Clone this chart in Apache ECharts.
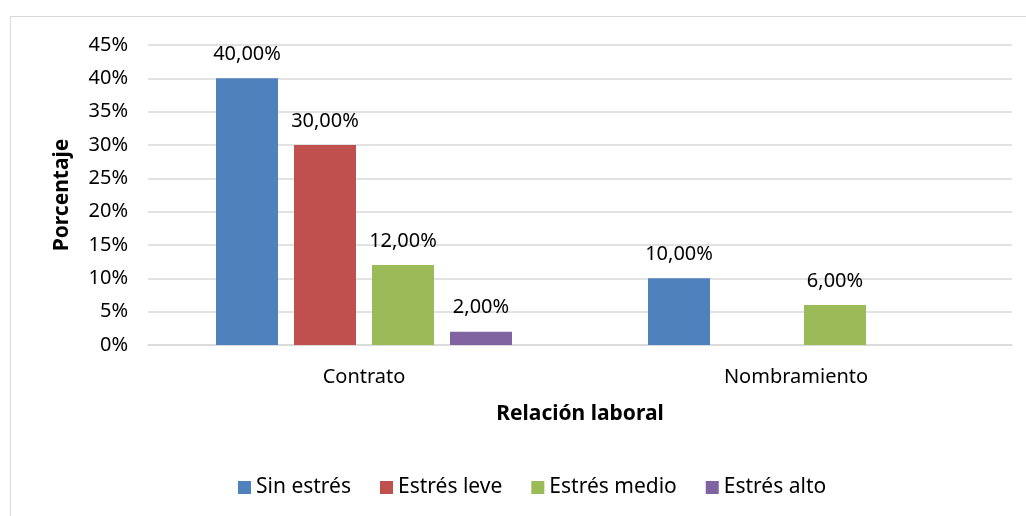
<!DOCTYPE html>
<html><head><meta charset="utf-8">
<script src="https://cdn.jsdelivr.net/npm/echarts@6/dist/echarts.min.js"></script>
<style>html,body{margin:0;padding:0;background:#fff;}#c{width:1026px;height:516px;}
#frame{position:absolute;left:10px;top:16px;width:1030px;height:520px;border:1px solid #d9d9d9;box-sizing:border-box;pointer-events:none;}</style>
</head><body><div id="c"></div><div id="frame"></div>
<script>
const categories = ['Contrato', 'Nombramiento'];
const sinEstres = [40, 10];
const estresLeve = [30, null];
const estresMedio = [12, 6];
const estresAlto = [2, null];
const seriesNames = ['Sin estrés', 'Estrés leve', 'Estrés medio', 'Estrés alto'];
const colors = ['#4F81BD', '#C0504D', '#9BBB59', '#8064A2'];
const FONT = 'Noto Sans';
const FS = 20;
const chart = echarts.init(document.getElementById('c'));
const mk = (name, data, color) => ({
  name, type: 'bar', data, barWidth: 62, barGap: '25.8%',
  itemStyle: { color },
  label: { show: true, position: 'top', distance: 14, color: '#000', fontFamily: FONT, fontSize: FS,
    formatter: p => p.value == null ? '' : p.value.toFixed(2).replace('.', ',') + '%' }
});
chart.setOption({
  animation: false,
  textStyle: { fontFamily: FONT },
  grid: { left: 148, right: 14, top: 45, bottom: 171 },
  legend: { top: 472, left: 233, itemWidth: 13, itemHeight: 13, itemGap: 29,
    icon: 'rect', textStyle: { fontFamily: FONT, fontSize: 21, color: '#000' },
    data: seriesNames },
  xAxis: { type: 'category', data: categories,
    axisLine: { lineStyle: { color: '#d9d9d9', width: 1.5 } }, axisTick: { show: false },
    axisLabel: { color: '#000', fontFamily: FONT, fontSize: FS, margin: 22 },
    name: 'Relación laboral', nameLocation: 'middle', nameGap: 59,
    nameTextStyle: { color: '#000', fontWeight: 'bold', fontFamily: FONT, fontSize: 21 } },
  yAxis: { type: 'value', min: 0, max: 45, interval: 5,
    axisLabel: { color: '#000', fontFamily: FONT, fontSize: FS, formatter: '{value}%', margin: 20 },
    splitLine: { lineStyle: { color: '#d9d9d9', width: 1.5 } },
    axisLine: { show: false }, axisTick: { show: false },
    name: 'Porcentaje', nameLocation: 'middle', nameGap: 75, nameRotate: 90,
    nameTextStyle: { color: '#000', fontWeight: 'bold', fontFamily: FONT, fontSize: 21 } },
  series: [
    mk(seriesNames[0], sinEstres, colors[0]),
    mk(seriesNames[1], estresLeve, colors[1]),
    mk(seriesNames[2], estresMedio, colors[2]),
    mk(seriesNames[3], estresAlto, colors[3])
  ]
});
</script></body></html>
